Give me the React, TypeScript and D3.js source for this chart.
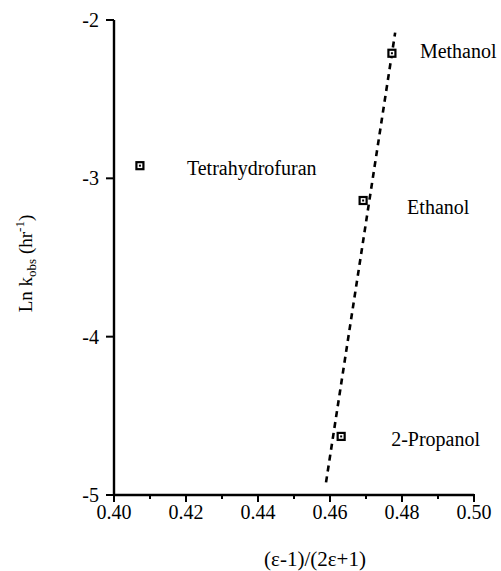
import React from 'react';
import * as d3 from 'd3';

// solvent data
const solvents = ['Methanol', 'Ethanol', '2-Propanol', 'Tetrahydrofuran'];
const polarity = [0.4772, 0.4692, 0.4631, 0.4072];
const lnK = [-2.21, -3.14, -4.63, -2.92];

// ends of the dashed fit line
const fitX = [0.4589, 0.4781];
const fitY = [-4.92, -2.08];

const xTicks = [0.4, 0.42, 0.44, 0.46, 0.48, 0.5];
const xMinor = [0.41, 0.43, 0.45, 0.47, 0.49];
const yTicks = [-2, -3, -4, -5];

// where each solvent name sits relative to its marker
const labelOffsets = [
  [28, 5],
  [44, 13],
  [50, 10],
  [47, 9],
];

const App = () => {
  const width = 501;
  const height = 571;
  const font = '"Liberation Serif", "Times New Roman", serif';
  const margin = { top: 20, right: 27, bottom: 76, left: 114 };

  const xScale = d3
    .scaleLinear()
    .domain([0.4, 0.5])
    .range([margin.left, width - margin.right]);
  const yScale = d3
    .scaleLinear()
    .domain([-5, -2])
    .range([height - margin.bottom, margin.top]);

  const fitLine = d3
    .line<number>()
    .x(d => xScale(fitX[d]))
    .y(d => yScale(fitY[d]))([0, 1]);

  const x0 = xScale(0.4);
  const y0 = yScale(-5);

  return (
    <svg
      width={width}
      height={height}
      style={{ position: 'absolute', left: 0, top: 0, background: '#fff' }}
      fontFamily={font}
    >
      {/* axes */}
      <line x1={x0} x2={x0} y1={yScale(-2)} y2={y0 + 1} stroke="#000" strokeWidth={2.4} />
      <line x1={x0} x2={xScale(0.5)} y1={y0} y2={y0} stroke="#000" strokeWidth={2.4} />

      {xTicks.map(t => (
        <g key={`xt-${t}`}>
          <line x1={xScale(t)} x2={xScale(t)} y1={y0 - 1} y2={y0 + 7} stroke="#000" strokeWidth={2} />
          <text x={xScale(t)} y={y0 + 24} textAnchor="middle" fontSize={20}>
            {t.toFixed(2)}
          </text>
        </g>
      ))}
      {xMinor.map(t => (
        <line key={`xm-${t}`} x1={xScale(t)} x2={xScale(t)} y1={y0} y2={y0 + 4} stroke="#000" strokeWidth={2} />
      ))}

      {yTicks.map(t => (
        <g key={`yt-${t}`}>
          <line x1={x0 - 8} x2={x0} y1={yScale(t)} y2={yScale(t)} stroke="#000" strokeWidth={2} />
          <text x={x0 - 15} y={yScale(t) + 7} textAnchor="end" fontSize={20}>
            {`-${Math.abs(t)}`}
          </text>
        </g>
      ))}

      {/* fit line */}
      <path d={fitLine ?? ''} fill="none" stroke="#000" strokeWidth={2.6} strokeDasharray="6,5" />

      {/* points */}
      {solvents.map((s, i) => {
        const cx = xScale(polarity[i]);
        const cy = yScale(lnK[i]);
        return (
          <g key={s}>
            <rect x={cx - 3.5} y={cy - 3.5} width={7} height={7} fill="#fff" stroke="#000" strokeWidth={2.2} />
            <rect x={cx - 1} y={cy - 1} width={2} height={2} fill="#000" />
            <text
              x={cx + labelOffsets[i][0]}
              y={cy + labelOffsets[i][1]}
              fontSize={20}
            >
              {s}
            </text>
          </g>
        );
      })}

      {/* axis titles */}
      <text x={315} y={566} textAnchor="middle" fontSize={21}>
        (ε-1)/(2ε+1)
      </text>
      <text
        transform={`translate(32, ${(yScale(-2) + y0) / 2 + 6}) rotate(-90)`}
        textAnchor="middle"
        fontSize={19}
      >
        Ln k
        <tspan fontSize={13} dy={4}>obs</tspan>
        <tspan dy={-4}> (hr</tspan>
        <tspan fontSize={13} dy={-8}>-1</tspan>
        <tspan dy={8}>)</tspan>
      </text>
    </svg>
  );
};

export default App;
